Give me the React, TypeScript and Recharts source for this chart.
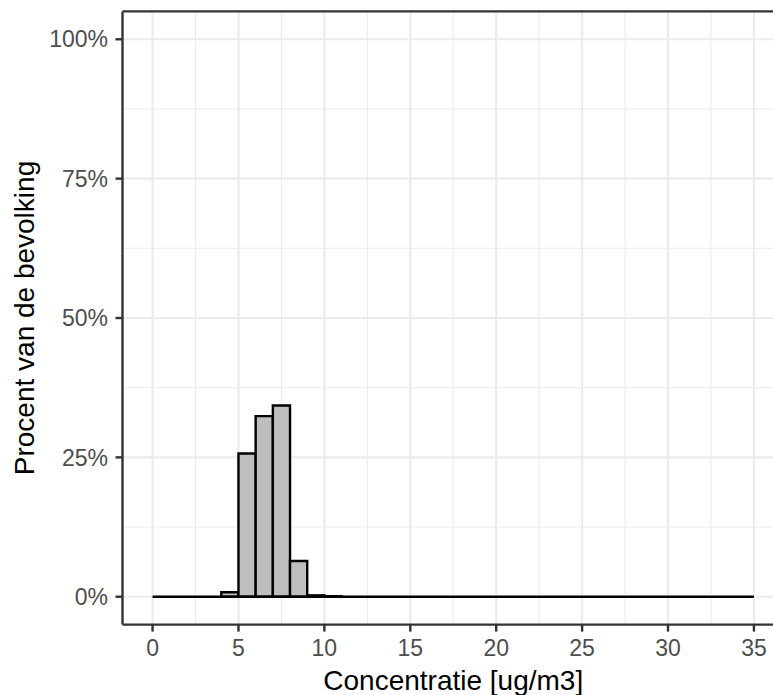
import React from 'react';
import {
  ComposedChart,
  XAxis,
  YAxis,
  CartesianGrid,
  ReferenceArea,
  ReferenceLine,
  Label,
} from 'recharts';

// Histogram bins (concentration, ug/m3)
const binStart = [0, 1, 2, 3, 4, 5, 6, 7, 8, 9, 10, 11, 12, 13, 14, 15, 16, 17, 18, 19, 20, 21, 22, 23, 24, 25, 26, 27, 28, 29, 30, 31, 32, 33, 34];
const binEnd = [1, 2, 3, 4, 5, 6, 7, 8, 9, 10, 11, 12, 13, 14, 15, 16, 17, 18, 19, 20, 21, 22, 23, 24, 25, 26, 27, 28, 29, 30, 31, 32, 33, 34, 35];
// Percent of population per bin
const percent = [0, 0, 0, 0, 0.8, 25.7, 32.4, 34.3, 6.4, 0.25, 0.1, 0, 0, 0, 0, 0, 0, 0, 0, 0, 0, 0, 0, 0, 0, 0, 0, 0, 0, 0, 0, 0, 0, 0, 0];

const xTicks = [0, 5, 10, 15, 20, 25, 30, 35];
const xMinor = [2.5, 7.5, 12.5, 17.5, 22.5, 27.5, 32.5];
const yTicks = [0, 25, 50, 75, 100];
const yMinor = [12.5, 37.5, 62.5, 87.5];

const xTitle = 'Concentratie [ug/m3]';
const yTitle = 'Procent van de bevolking';

const data = binStart.map((s, i) => ({ x: (s + binEnd[i]) / 2, start: s, end: binEnd[i], pct: percent[i] }));

const axisColor = '#333333';
const tickStyle = { fill: '#4d4d4d', fontSize: 23 };

export default function App() {
  return (
    <div
      style={{
        position: 'absolute',
        left: 0,
        top: 0,
        width: 773,
        height: 695,
        overflow: 'hidden',
        background: '#ffffff',
        fontFamily: '"Liberation Sans", Arial, sans-serif',
      }}
    >
      <ComposedChart width={800} height={695} data={data} margin={{ top: 10.4, right: 16, bottom: 0, left: 0 }}>
        <CartesianGrid stroke="#ebebeb" strokeWidth={1.1} verticalValues={xMinor} horizontalValues={yMinor} />
        <CartesianGrid stroke="#ebebeb" strokeWidth={2.2} verticalValues={xTicks} horizontalValues={yTicks} />
        <XAxis
          dataKey="x"
          type="number"
          domain={[-1.75, 36.75]}
          allowDataOverflow
          ticks={xTicks}
          interval={0}
          height={70.4}
          tickSize={7}
          tickMargin={8.5}
          tick={tickStyle}
          fontSize={23}
          axisLine={{ stroke: axisColor, strokeWidth: 2.4 }}
          tickLine={{ stroke: axisColor, strokeWidth: 2.4 }}
        >
          <Label value={xTitle} position="insideBottom" offset={5} fill="#000000" fontSize={28} />
        </XAxis>
        <XAxis
          xAxisId="top"
          dataKey="x"
          orientation="top"
          type="number"
          domain={[-1.75, 36.75]}
          allowDataOverflow
          height={1}
          tick={false}
          tickLine={false}
          axisLine={{ stroke: axisColor, strokeWidth: 2.4 }}
        />
        <YAxis
          dataKey="pct"
          type="number"
          domain={[-5, 105]}
          allowDataOverflow
          ticks={yTicks}
          interval={0}
          width={122.5}
          tickSize={7}
          tickMargin={7.5}
          tick={tickStyle}
          fontSize={23}
          tickFormatter={(v: number) => `${v}%`}
          axisLine={{ stroke: axisColor, strokeWidth: 2.4 }}
          tickLine={{ stroke: axisColor, strokeWidth: 2.4 }}
        >
          <Label
            value={yTitle}
            angle={-90}
            position="insideLeft"
            offset={24}
            fill="#000000"
            fontSize={28}
            style={{ textAnchor: 'middle' }}
          />
        </YAxis>
        <ReferenceLine
          segment={[
            { x: binStart[0], y: 0 },
            { x: binEnd[binEnd.length - 1], y: 0 },
          ]}
          stroke="#000000"
          strokeWidth={2.4}
          ifOverflow="visible"
        />
        {data
          .filter((d) => d.pct > 0)
          .map((d) => (
            <ReferenceArea
              key={d.start}
              x1={d.start}
              x2={d.end}
              y1={0}
              y2={d.pct}
              fill="#bebebe"
              fillOpacity={1}
              stroke="#000000"
              strokeWidth={2.4}
              ifOverflow="visible"
            />
          ))}
      </ComposedChart>
    </div>
  );
}
